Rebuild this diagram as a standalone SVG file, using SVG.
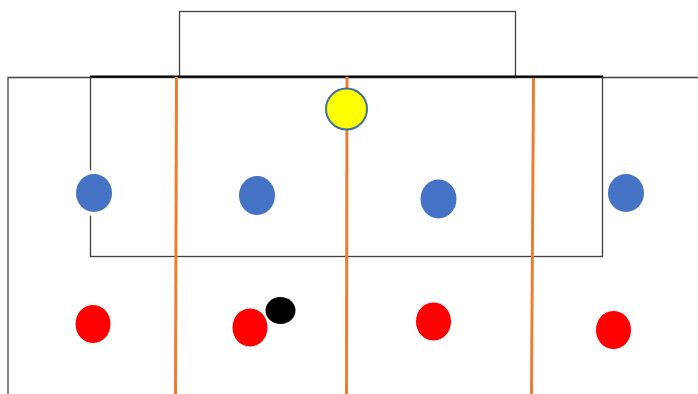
<svg xmlns="http://www.w3.org/2000/svg" width="698" height="394" viewBox="0 0 698 394">
<style>
.line{fill:none;stroke:#404040;stroke-width:1.3}
.zone{stroke:#ED7D31;stroke-width:3;fill:none}
.halo{fill:#fff}
.blue{fill:#4472C4}
.red{fill:#FF0000;stroke:#fff;stroke-width:1}
</style>
<rect width="698" height="394" fill="#fff"/>
<g id="field">
<path class="line" d="M8 394 V77.5 H698"/>
<rect id="goal" class="line" x="179.5" y="11.5" width="336" height="66"/>
<rect id="box" class="line" x="90.5" y="77" width="512" height="179.5"/>
<line x1="90" y1="76.5" x2="603" y2="76.5" stroke="#000" stroke-width="2"/>
</g>
<g id="connectors">
<line class="zone" x1="176.5" y1="77" x2="175.5" y2="394"/>
<line class="zone" x1="347" y1="77" x2="346.5" y2="394"/>
<line class="zone" x1="533.5" y1="78" x2="531.5" y2="394"/>
</g>
<g id="ball"><circle cx="346.5" cy="109" r="20.5" fill="#FFFF00" stroke="#41719C" stroke-width="2"/></g>
<g id="blue1"><ellipse class="halo" cx="94" cy="193" rx="21.5" ry="23"/><ellipse class="blue" cx="94" cy="193" rx="18" ry="19"/></g>
<g id="blue2"><ellipse class="blue" cx="257" cy="195.5" rx="18" ry="19.5"/></g>
<g id="blue3"><ellipse class="blue" cx="438.5" cy="199" rx="18" ry="19.5"/></g>
<g id="blue4"><ellipse class="blue" cx="626" cy="193" rx="18" ry="19"/></g>
<g id="red1"><ellipse class="red" cx="93" cy="324" rx="18" ry="19.5"/></g>
<g id="red2"><ellipse class="red" cx="250" cy="327.5" rx="18" ry="19.5"/></g>
<g id="red3"><ellipse class="red" cx="433.5" cy="321.5" rx="18" ry="19.5"/></g>
<g id="red4"><ellipse class="red" cx="613.5" cy="330" rx="18" ry="19.5"/></g>
<g id="black"><ellipse cx="280.5" cy="310.5" rx="15" ry="13.5" fill="#000"/></g>
</svg>
